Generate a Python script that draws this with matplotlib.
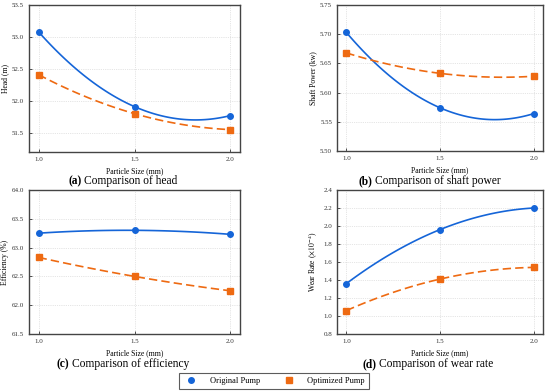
import numpy as np
import matplotlib
matplotlib.use('Agg')
import matplotlib.pyplot as plt
from matplotlib.lines import Line2D

plt.rcParams['font.family'] = ['Liberation Serif', 'DejaVu Serif']
plt.rcParams['mathtext.fontset'] = 'stix'

sizes = [1.0, 1.5, 2.0]
head_orig = [53.08, 51.91, 51.77]
head_opt = [52.41, 51.80, 51.55]
power_orig = [5.703, 5.574, 5.564]
power_opt = [5.668, 5.633, 5.628]
eff_orig = [63.25, 63.30, 63.23]
eff_opt = [62.83, 62.50, 62.25]
wear_orig = [1.36, 1.96, 2.20]
wear_opt = [1.06, 1.41, 1.54]

blue = '#1565d8'
orange = '#ee6a12'

fig = plt.figure(figsize=(5.5, 3.91), dpi=100)
W, H = 550, 391

def add_ax(l, t, r, b):
    return fig.add_axes([l / W, 1 - b / H, (r - l) / W, (b - t) / H])

panels = [
    (add_ax(29, 5, 240, 152), head_orig, head_opt, (51.2, 53.5), np.arange(51.5, 53.51, 0.5), 'Head (m)', '%.1f'),
    (add_ax(337, 5, 543, 151), power_orig, power_opt, (5.50, 5.75), np.arange(5.50, 5.751, 0.05), 'Shaft Power (kw)', '%.2f'),
    (add_ax(29, 190, 240, 334), eff_orig, eff_opt, (61.5, 64.0), np.arange(61.5, 64.01, 0.5), 'Efficiency (%)', '%.1f'),
    (add_ax(337, 190, 543, 334), wear_orig, wear_opt, (0.8, 2.4), np.arange(0.8, 2.41, 0.2), r'Wear Rate ($\times10^{-4}$)', '%.1f'),
]

xs = np.linspace(1.0, 2.0, 100)
for ax, yo, yp, ylim, yt, ylab, fmt in panels:
    co = np.polyfit(sizes, yo, 2)
    cp = np.polyfit(sizes, yp, 2)
    ax.plot(xs, np.polyval(co, xs), color=blue, lw=1.2)
    ax.plot(xs, np.polyval(cp, xs), color=orange, lw=1.2, ls=(0, (5, 2.5)))
    ax.plot(sizes, yo, 'o', color=blue, ms=4)
    ax.plot(sizes, yp, 's', color=orange, ms=4)
    ax.set_xlim(0.95, 2.05)
    ax.set_ylim(*ylim)
    ax.set_xticks([1.0, 1.5, 2.0])
    ax.set_yticks(yt)
    ax.yaxis.set_major_formatter(matplotlib.ticker.FormatStrFormatter(fmt))
    ax.grid(True, ls=':', lw=0.5, color='#cccccc')
    ax.tick_params(labelsize=5, direction='in', length=2, width=0.6, colors='#333333')
    for s in ax.spines.values():
        s.set_linewidth(1.0)
        s.set_color('#444444')
    ax.set_xlabel('Particle Size (mm)', fontsize=5.5, labelpad=4)
    ax.set_ylabel(ylab, fontsize=5.5, labelpad=2)

# captions under each panel: bold letter + normal text
captions = [
    (123, 181, '(a)', 'Comparison of head'),
    (430, 181, '(b)', 'Comparison of shaft power'),
    (123, 364, '(c)', 'Comparison of efficiency'),
    (428, 364, '(d)', 'Comparison of wear rate'),
]
renderer = fig.canvas.get_renderer()
for cx, cy, lab, txt in captions:
    t1 = fig.text(0, 1 - cy / H, lab, fontsize=8.3, fontweight='bold', ha='left', va='center')
    t2 = fig.text(0, 1 - cy / H, txt, fontsize=8.3, ha='left', va='center')
    w1 = t1.get_window_extent(renderer).width
    w2 = t2.get_window_extent(renderer).width
    gap = 2.5
    x0 = cx - (w1 + gap + w2) / 2
    t1.set_x(x0 / W)
    t2.set_x((x0 + w1 + gap) / W)

handles = [
    Line2D([], [], marker='o', color=blue, ls='none', ms=4, label='Original Pump'),
    Line2D([], [], marker='s', color=orange, ls='none', ms=4, label='Optimized Pump'),
]
leg = fig.legend(handles=handles, loc='center', bbox_to_anchor=(274 / W, 1 - 381 / H), ncol=2,
                 fontsize=6, frameon=True, fancybox=False, edgecolor='#333333',
                 columnspacing=2.5, handletextpad=1.2, borderpad=0.45)
leg.get_frame().set_linewidth(0.8)

fig.savefig('out.png', dpi=100)
